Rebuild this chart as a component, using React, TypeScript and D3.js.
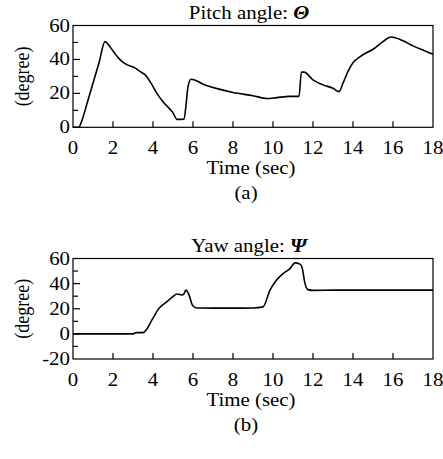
import React, { useEffect, useRef } from "react";
import * as d3 from "d3";

// time (sec) / value (degree)
const pitchTime = [0, 0.3, 0.4, 0.7, 1.0, 1.3, 1.6, 1.75, 2.0, 2.3, 2.6, 3.1, 3.4, 3.6, 3.9, 4.2, 4.5, 5.0, 5.2, 5.55, 5.65, 5.75, 5.9, 6.6, 7.3, 8.0, 9.0, 9.7, 10.2, 10.8, 11.3, 11.42, 11.55, 12.0, 12.5, 13.0, 13.3, 13.5, 13.75, 14.0, 14.4, 15.0, 15.5, 15.9, 16.5, 17.0, 17.5, 18.0];
const pitchValue = [0, 0, 2.5, 14, 26, 38, 50.5, 49, 45, 40.5, 37.5, 35, 32.5, 31, 26, 20, 15, 8.5, 4.7, 4.8, 13, 24, 28.3, 25, 22.5, 20.5, 18.6, 17, 17.5, 18.2, 18.2, 32.5, 32.5, 28, 25, 23, 21, 26, 33, 38, 42, 46, 50.5, 53.2, 51, 48, 45.5, 43];
const yawTime = [0, 3.0, 3.15, 3.5, 3.65, 4.0, 4.3, 4.65, 5.0, 5.2, 5.45, 5.55, 5.65, 5.8, 5.98, 6.2, 7.0, 8.0, 9.0, 9.5, 9.85, 10.17, 10.5, 10.85, 11.1, 11.35, 11.45, 11.6, 11.77, 12.0, 13.0, 15.0, 18.0];
const yawValue = [0, 0, 1, 1, 3, 12.5, 20.3, 25, 29.6, 31.7, 31, 32, 34.8, 31, 22.6, 20.6, 20.5, 20.5, 20.6, 21.5, 34.8, 42.7, 48, 52, 56.5, 55.5, 53, 40, 35, 34.6, 34.8, 34.8, 34.8];

const xTicks = [0, 2, 4, 6, 8, 10, 12, 14, 16, 18];
const pitchTicks = [0, 20, 40, 60];
const yawTicks = [-20, 0, 20, 40, 60];

const FONT = "Liberation Serif, Times New Roman, Times, serif";
const STRETCH = 1.16;

type Panel = {
  top: number;
  bottom: number;
  title: string;
  symbol: string;
  domain: [number, number];
  ticks: number[];
  time: number[];
  value: number[];
  caption: string;
};

const panels: Panel[] = [
  { top: 25.5, bottom: 127.3, title: "Pitch angle: ", symbol: "\u0398", domain: [0, 60], ticks: pitchTicks, time: pitchTime, value: pitchValue, caption: "(a)" },
  { top: 258.5, bottom: 359, title: "Yaw angle: ", symbol: "\u03A8", domain: [-20, 60], ticks: yawTicks, time: yawTime, value: yawValue, caption: "(b)" },
];

const App = () => {
  const svgRef = useRef<SVGSVGElement>(null);

  useEffect(() => {
    const svg = d3.select(svgRef.current);
    svg.selectAll("*").remove();
    const left = 73;
    const right = 433;

    const x = d3.scaleLinear().domain([0, 18]).range([left, right]);

    const stretchText = (g: any, px: number, py: number, txt: string, size: number, anchor: string) =>
      g
        .append("text")
        .attr("transform", `translate(${px},${py}) scale(${STRETCH},1)`)
        .attr("text-anchor", anchor)
        .attr("dominant-baseline", "central")
        .attr("font-family", FONT)
        .attr("font-size", size)
        .attr("fill", "#000")
        .text(txt);

    panels.forEach((p) => {
      const y = d3.scaleLinear().domain(p.domain).range([p.bottom, p.top]);
      const g = svg.append("g");

      // frame
      g.append("rect")
        .attr("x", left)
        .attr("y", p.top)
        .attr("width", right - left)
        .attr("height", p.bottom - p.top)
        .attr("fill", "none")
        .attr("stroke", "#000")
        .attr("stroke-width", 1.2);

      // inward x ticks
      g.selectAll(".xt")
        .data(xTicks.slice(1, -1))
        .join("line")
        .attr("x1", (d) => x(d))
        .attr("x2", (d) => x(d))
        .attr("y1", p.bottom)
        .attr("y2", p.bottom - 6)
        .attr("stroke", "#000")
        .attr("stroke-width", 1.2);

      // inward y ticks every 10, labelled ones a bit longer
      const yMinor = d3.range(p.domain[0] + 10, p.domain[1], 10);
      g.selectAll(".yt")
        .data(yMinor)
        .join("line")
        .attr("x1", left)
        .attr("x2", (d) => left + (p.ticks.includes(d) ? 7 : 5))
        .attr("y1", (d) => y(d))
        .attr("y2", (d) => y(d))
        .attr("stroke", "#000")
        .attr("stroke-width", 1.2);

      xTicks.forEach((t) => stretchText(g, x(t), p.bottom + 21, String(t), 18, "middle"));
      p.ticks.forEach((t) => stretchText(g, 70, y(t), String(t), 18, "end"));

      const mid = (p.top + p.bottom) / 2;
      g.append("text")
        .attr("transform", `translate(22,${mid}) rotate(-90) scale(1,${STRETCH})`)
        .attr("text-anchor", "middle")
        .attr("dominant-baseline", "central")
        .attr("font-family", FONT)
        .attr("font-size", 18)
        .text("(degree)");

      const title = g
        .append("text")
        .attr("transform", `translate(249,${p.top - 13}) scale(${STRETCH},1)`)
        .attr("text-anchor", "middle")
        .attr("dominant-baseline", "central")
        .attr("font-family", FONT)
        .attr("font-size", 18);
      title.append("tspan").text(p.title);
      title.append("tspan").attr("font-weight", "bold").attr("font-style", "italic").text(p.symbol);

      stretchText(g, 251, p.bottom + 41, "Time (sec)", 18, "middle");
      stretchText(g, 246, p.bottom + 66, p.caption, 18, "middle");

      const line = d3
        .line<number>()
        .x((_, i) => x(p.time[i]))
        .y((d) => y(d))
        .curve(d3.curveMonotoneX);

      g.append("path")
        .attr("d", line(p.value))
        .attr("fill", "none")
        .attr("stroke", "#000")
        .attr("stroke-width", 1.6)
        .attr("stroke-linejoin", "round");
    });
  }, []);

  return (
    <svg
      ref={svgRef}
      width={443}
      height={459}
      style={{ position: "absolute", left: 0, top: 0, background: "#fff" }}
    ></svg>
  );
};

export default App;
